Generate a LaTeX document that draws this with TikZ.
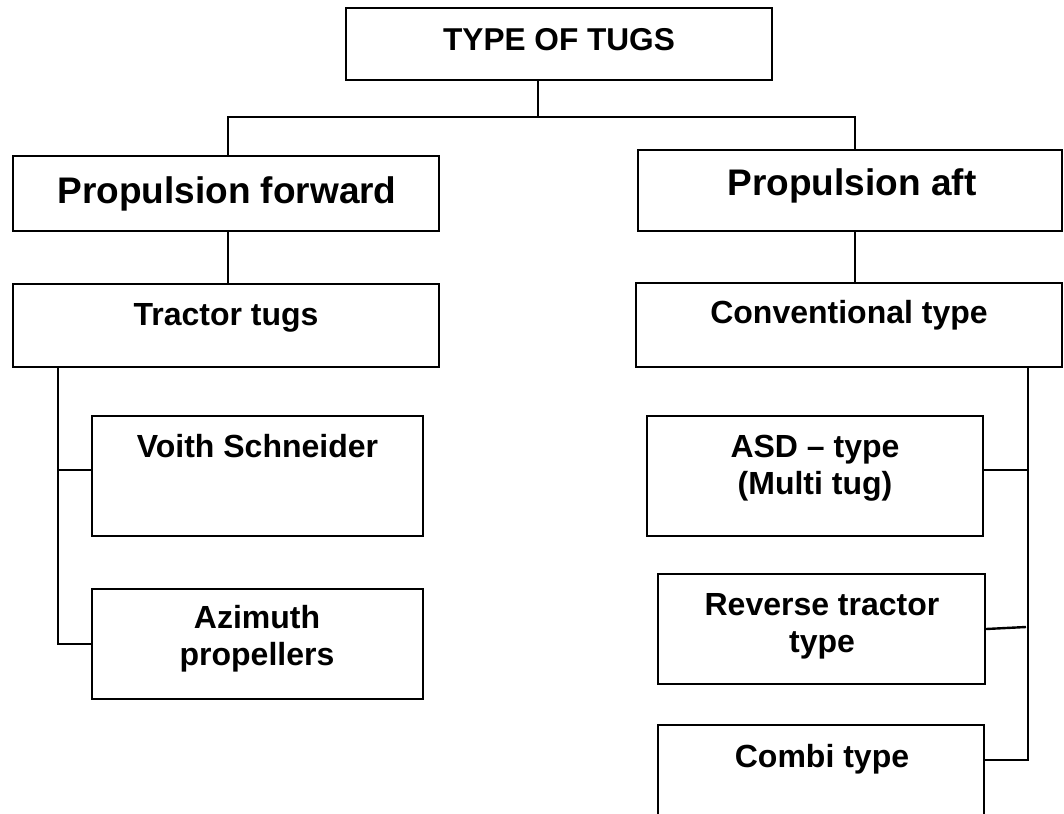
\documentclass[tikz,border=0pt]{standalone}
\usepackage{fontspec}
\setmainfont{Liberation Sans}
\usetikzlibrary{fit}
\begin{document}
\begin{tikzpicture}[x=0.75pt,y=-0.75pt,
  box/.style={draw, line width=1.8pt, inner sep=0pt, rectangle},
  conn/.style={line width=1.8pt},
  lbl/.style={anchor=base, inner sep=0pt, align=center, font=\bfseries\fontsize{24}{27.6}\selectfont},
  biglbl/.style={anchor=base, inner sep=0pt, align=center, font=\bfseries\fontsize{27.75}{32}\selectfont},
  titlelbl/.style={anchor=base, inner sep=0pt, align=center, font=\bfseries\fontsize{23.7}{27}\selectfont}]
\clip (0,0) rectangle (1064,814);
\fill[white] (0,0) rectangle (1064,814);
% boxes
\node[box, fit={(346,8) (772,80)}] (top) {};
\node[box, fit={(13,156) (439,231)}] (pf) {};
\node[box, fit={(638,150) (1062,231)}] (pa) {};
\node[box, fit={(13,284) (439,367)}] (tt) {};
\node[box, fit={(636,283) (1062,367)}] (ct) {};
\node[box, fit={(92,416) (423,536)}] (vs) {};
\node[box, fit={(92,589) (423,699)}] (az) {};
\node[box, fit={(647,416) (983,536)}] (asd) {};
\node[box, fit={(658,574) (985,684)}] (rt) {};
\node[box, fit={(658,725) (984,840)}] (cb) {};
% labels
\node[titlelbl] (ttop) at (559,50) {TYPE OF TUGS};
\node[biglbl] (tpf) at (227,203) {Propulsion forward};
\node[biglbl] (tpa) at (852,195) {Propulsion aft};
\node[lbl] (ttt) at (226,325) {Tractor tugs};
\node[lbl] (tct) at (849,323) {Conventional type};
\node[lbl] (tvs) at (257.5,457) {Voith Schneider};
\node[lbl] (taz) at (257,665) {Azimuth\\propellers};
\node[lbl] (tasd) at (815,494) {ASD -- type\\(Multi tug)};
\node[lbl] (trt) at (822,652) {Reverse tractor\\type};
\node[lbl] (tcb) at (822,767) {Combi type};
% junction coordinates
\coordinate (j0) at (538,117);
\coordinate (xl) at (228,117);
\coordinate (xr) at (855,117);
\coordinate (ll) at (58,470);
\coordinate (rr) at (1028,470);
\coordinate (rtj) at (1026,627);
\coordinate (cbj) at (1028,760);
% connectors
\draw[conn] (top.south -| j0) -- (j0);
\draw[conn] (pf.north -| xl) -- (xl) -- (xr) -- (pa.north -| xr);
\draw[conn] (pf.south -| xl) -- (tt.north -| xl);
\draw[conn] (pa.south -| xr) -- (ct.north -| xr);
\draw[conn] (tt.south -| ll) -- (ll |- az.west) -- (az.west);
\draw[conn] (ll) -- (vs.west |- ll);
\draw[conn] (ct.south -| rr) -- (cbj) -- (cb.east |- cbj);
\draw[conn] (rr) -- (asd.east |- rr);
\draw[conn] (rt.east) -- (rtj);
\end{tikzpicture}
\end{document}
